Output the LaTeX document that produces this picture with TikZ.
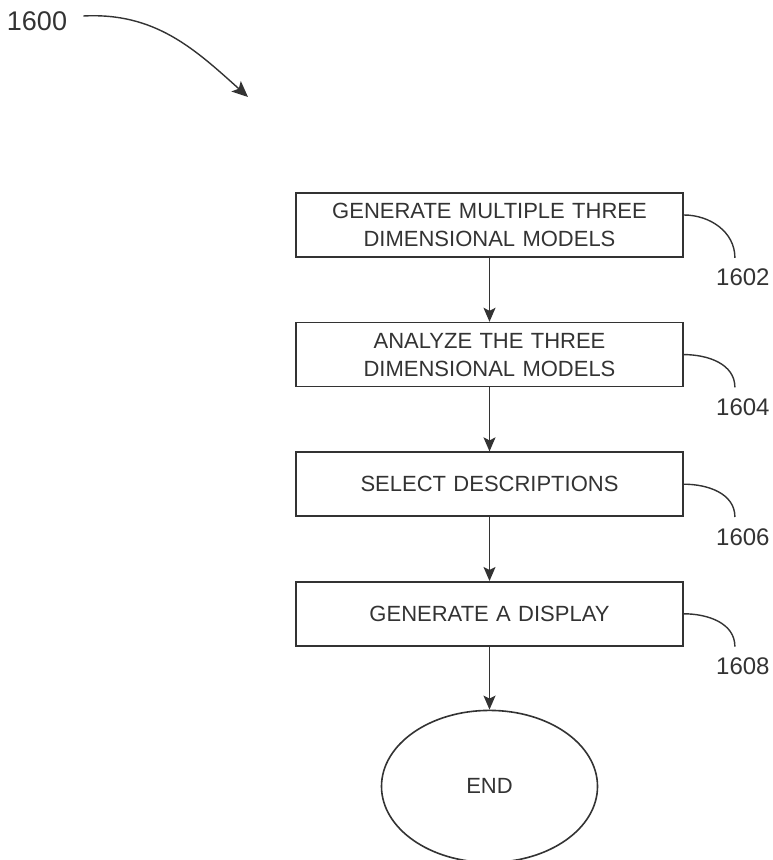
\documentclass[tikz,border=0pt]{standalone}
\usepackage{fontspec}
\setmainfont{Liberation Sans}
\usetikzlibrary{positioning,arrows.meta,shapes.geometric}

\begin{document}
\begin{tikzpicture}
        [x=0.5pt, y=0.5pt,
        node distance=32pt,
        line/.style={draw=black!80, line width=0.7pt},
        flow/.style={line, -{Stealth[length=7pt,width=6pt,inset=1.5pt]}},
        stepbox/.style={rectangle, draw=black!80, line width=0.8pt,
                     minimum width=193.5pt, minimum height=32pt,
                     text width=185pt, align=center, inner sep=0pt,
                     font=\fontsize{11}{14}\selectfont, text=black!80},
        endnode/.style={ellipse, draw=black!80, line width=0.8pt,
                     minimum width=108pt, minimum height=76pt,
                     font=\fontsize{11}{14}\selectfont, text=black!80},
        refnum/.style={inner sep=0pt, font=\fontsize{12}{14}\selectfont, text=black!80}]
        \useasboundingbox (0,0) rectangle (772,-860);
        % figure number
        \node[refnum, font=\fontsize{13.5}{15}\selectfont] (fig) at (37,-21) {1600};
        \coordinate (figtip) at (248,-97);
        \draw[line, -{Stealth[length=8pt,width=7pt,inset=1.8pt]}]
            ([xshift=8pt,yshift=2.5pt]fig.east) to[out=3,in=138] (figtip);
        % steps
        \node[stepbox] (gen) at (489.5,-225) {GENERATE MULTIPLE THREE\\DIMENSIONAL MODELS};
        \node[stepbox, below=of gen] (analyze) {ANALYZE THE THREE\\DIMENSIONAL MODELS};
        \node[stepbox, below=of analyze] (select) {SELECT DESCRIPTIONS};
        \node[stepbox, below=of select] (display) {GENERATE A DISPLAY};
        \node[endnode, below=31.5pt of display] (end) {END};
        \draw[flow] (gen) -- (analyze);
        \draw[flow] (analyze) -- (select);
        \draw[flow] (select) -- (display);
        \draw[flow] (display) -- (end);
        % reference numerals
        \node[refnum, below right=5.5pt and 16pt of gen.south east] (r1602) {1602};
        \node[refnum, below right=5.5pt and 16pt of analyze.south east] (r1604) {1604};
        \node[refnum, below right=5.5pt and 16pt of select.south east] (r1606) {1606};
        \node[refnum, below right=5.5pt and 16pt of display.south east] (r1608) {1608};
        \draw[line] ([yshift=5pt]gen.east) to[out=0,in=90] ([xshift=-4pt,yshift=5.5pt]r1602.north);
        \draw[line] (analyze.east) to[out=0,in=90] ([xshift=-4pt,yshift=5.5pt]r1604.north);
        \draw[line] (select.east) to[out=0,in=90] ([xshift=-4pt,yshift=5.5pt]r1606.north);
        \draw[line] (display.east) to[out=0,in=90] ([xshift=-4pt,yshift=5.5pt]r1608.north);
\end{tikzpicture}
\end{document}
